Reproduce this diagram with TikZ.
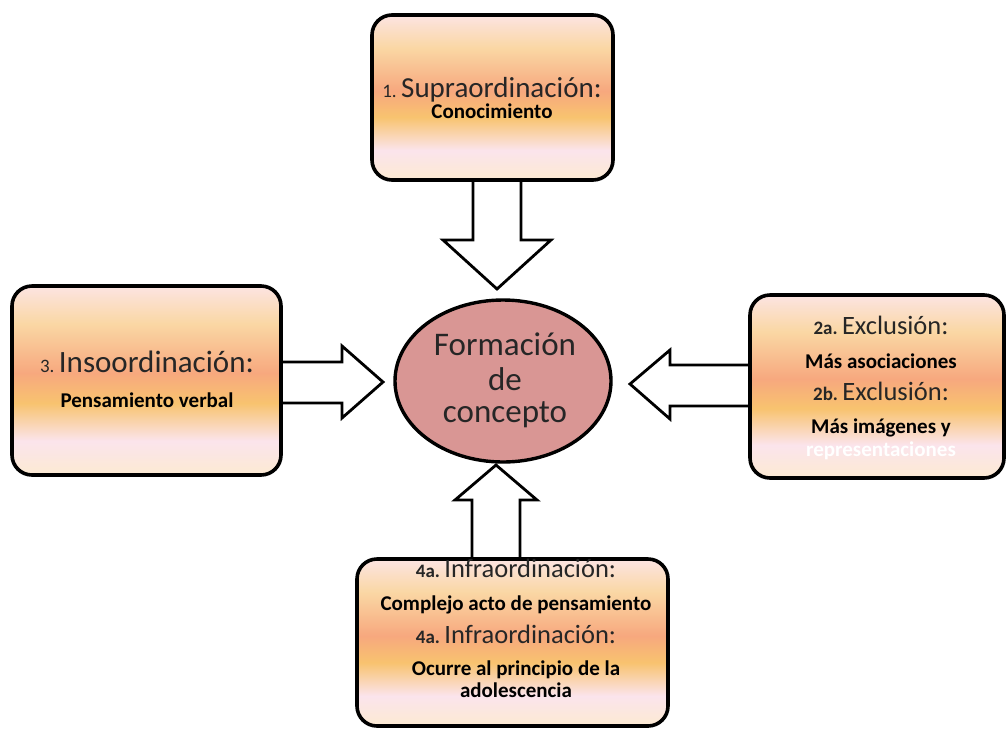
\documentclass[tikz,border=0pt]{standalone}
\usepackage{fontspec}
\setmainfont{Carlito}
\usetikzlibrary{shapes.geometric,calc}

\definecolor{shTop}{HTML}{FCE4E2}
\definecolor{shLight}{HTML}{FAD7A4}
\definecolor{shSalmon}{HTML}{F7A87E}
\definecolor{shYellow}{HTML}{F8C36F}
\definecolor{shPink}{HTML}{FBE4EC}
\definecolor{shCream}{HTML}{FCEAD2}
\definecolor{coreFill}{HTML}{D99694}
\definecolor{headInk}{HTML}{262626}

% vertical band shading of the stage boxes (bottom to top)
\pgfdeclareverticalshading{stageshade}{100bp}{%
  color(0bp)=(shCream); color(25bp)=(shCream); color(34bp)=(shPink);
  color(44bp)=(shYellow); color(52bp)=(shSalmon); color(65bp)=(shLight);
  color(75bp)=(shTop); color(100bp)=(shTop)}

\newcommand{\prefnum}[1]{{\fontsize{19}{21}\selectfont #1}\,}
\newcommand{\prefbold}[1]{{\bfseries\fontsize{19}{21}\selectfont #1}\,}

\tikzset{
  stage/.style={draw=black, line width=3.6pt, rounded corners=20pt,
    shading=stageshade, inner sep=0pt},
  core/.style={ellipse, draw=black, line width=3.4pt, fill=coreFill,
    inner sep=0pt},
  blockarrow/.style={draw=black, line width=2.8pt, fill=white,
    line join=miter},
  head/.style={anchor=base, text=headInk, font=\fontsize{26.5}{28}\selectfont},
  note/.style={anchor=base, text=black, font=\bfseries\fontsize{21}{23}\selectfont},
  coretext/.style={anchor=base, text=headInk, font=\fontsize{33}{36}\selectfont},
}

\begin{document}
\begin{tikzpicture}[x=1pt,y=-1pt]
\useasboundingbox (0,0) rectangle (1008,729);

% block arrows (drawn first, the boxes cover their open ends)
\draw[blockarrow] (473,178) -- (473,240) -- (443,240) -- (497,289)
  -- (551,240) -- (521,240) -- (521,178);
\draw[blockarrow] (283,362) -- (342,362) -- (342,346) -- (383,382)
  -- (342,418) -- (342,403) -- (283,403);
\draw[blockarrow] (748,365) -- (670,365) -- (670,350) -- (630,384)
  -- (670,419) -- (670,406) -- (748,406);
\draw[blockarrow] (472,561) -- (472,500) -- (455,500) -- (496,465)
  -- (537,500) -- (520,500) -- (520,561);

% stage boxes
\node[stage, minimum width=241pt, minimum height=165pt] (sup) at (492.5,97.5) {};
\node[stage, minimum width=269pt, minimum height=189pt] (ins) at (146.5,380.5) {};
\node[stage, minimum width=254pt, minimum height=183pt] (exc) at (877,386.5) {};
\node[stage, minimum width=311pt, minimum height=167pt] (inf) at (512.5,642.5) {};

% central concept
\node[core, minimum width=216pt, minimum height=162pt] (core) at (503,381) {};

% texts
\node[head] (supH) at (492,97) {\prefnum{1.}{\fontsize{29}{31}\selectfont Supraordinación:}};
\node[note] (supN) at (492,118) {Conocimiento};

\node[head] (insH) at (147,372) {\prefnum{3.}{\fontsize{31}{33}\selectfont Insoordinación:}};
\node[note] (insN) at (147,407) {Pensamiento verbal};

\node[head] (excH1) at (881,334) {\prefbold{2a.}Exclusión:};
\node[note] (excN1) at (881,368) {Más asociaciones};
\node[head] (excH2) at (881,400) {\prefbold{2b.}Exclusión:};
\node[note] (excN2) at (881,433) {Más imágenes y};
\node[note, text=white] (excN3) at (881,456) {representaciones};

\node[head] (infH1) at (516,577) {\prefbold{4a.}Infraordinación:};
\node[note] (infN1) at (516,610) {Complejo acto de pensamiento};
\node[head] (infH2) at (516,643) {\prefbold{4a.}Infraordinación:};
\node[note] (infN2) at (516,675) {Ocurre al principio de la};
\node[note] (infN3) at (516,697) {adolescencia};

\node[coretext] (c1) at (505,355) {Formación};
\node[coretext] (c2) at (505,390) {de};
\node[coretext] (c3) at (505,422) {concepto};
\end{tikzpicture}
\end{document}
